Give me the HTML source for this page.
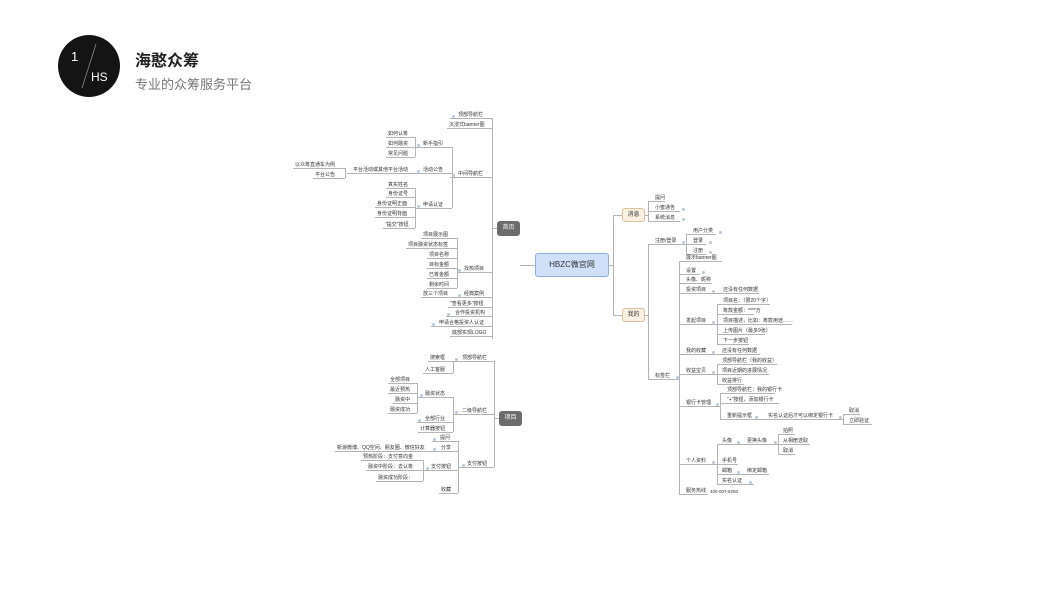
<!DOCTYPE html>
<html><head><meta charset="utf-8"><style>
body{margin:0;width:1048px;height:600px;background:#fff;position:relative;overflow:hidden;font-family:"Liberation Sans","Noto Sans CJK SC",sans-serif}
.n{position:absolute;height:7px;line-height:7px;font-size:5px;border-bottom:1px solid #b4b4b4;white-space:nowrap;color:#333;box-sizing:border-box}
.v{position:absolute;width:0;border-left:1px solid #b4b4b4}
.h{position:absolute;height:0;border-top:1px solid #b4b4b4}
.d{position:absolute;width:3px;height:3px;border-radius:50%;background:#b9c9dd}
.bx{position:absolute;box-sizing:border-box;font-size:6px;text-align:center;border-radius:3px}
</style></head><body>
<div style="position:absolute;left:58px;top:35px;width:62px;height:62px;border-radius:50%;background:#141414"></div>
<svg style="position:absolute;left:0;top:0" width="200" height="100"><line x1="96" y1="44" x2="82" y2="88" stroke="#888" stroke-width="0.8"/></svg>
<div style="position:absolute;left:71px;top:49px;color:#fff;font-size:13px">1</div>
<div style="position:absolute;left:91px;top:70px;color:#fff;font-size:12px">HS</div>
<div style="position:absolute;left:135px;top:47px;font-size:16px;font-weight:bold;color:#222">海憨众筹</div>
<div style="position:absolute;left:135px;top:74px;font-size:13px;color:#777">专业的众筹服务平台</div>

<!-- center -->
<div class="bx" style="left:535px;top:253px;width:74px;height:24px;line-height:22px;background:#cfe0f8;border:1px solid #8eaede;font-size:8px;color:#333">HBZC微官网</div>
<div class="bx" style="left:497px;top:221px;width:23px;height:15px;line-height:15px;background:#6c6c6c;color:#fff">首页</div>
<div class="bx" style="left:499px;top:411px;width:23px;height:15px;line-height:15px;background:#6c6c6c;color:#fff">项目</div>
<div class="bx" style="left:622px;top:208px;width:23px;height:14px;line-height:12px;background:#fbf1e2;border:1px solid #d9c39e;color:#333">消息</div>
<div class="bx" style="left:622px;top:308px;width:23px;height:14px;line-height:12px;background:#fbf1e2;border:1px solid #d9c39e;color:#333">我的</div>

<!-- left spines -->
<div class="v" style="left:492px;top:118px;height:221px"></div>
<div class="h" style="left:492px;top:228px;width:5px"></div>
<div class="h" style="left:520px;top:265px;width:15px"></div>
<div class="v" style="left:494px;top:361px;height:106px"></div>
<div class="h" style="left:494px;top:418px;width:5px"></div>
<div class="v" style="left:452px;top:147px;height:61px"></div>
<div class="v" style="left:415px;top:137px;height:20px"></div>
<div class="v" style="left:345px;top:168px;height:10px"></div>
<div class="v" style="left:415px;top:188px;height:40px"></div>
<div class="v" style="left:457px;top:238px;height:50px"></div>
<div class="v" style="left:453px;top:361px;height:12px"></div>
<div class="v" style="left:453px;top:397px;height:35px"></div>
<div class="v" style="left:417px;top:383px;height:30px"></div>
<div class="v" style="left:458px;top:441px;height:52px"></div>
<div class="v" style="left:423px;top:460px;height:21px"></div>

<div class="n" style="left:450px;top:112px;width:42px;padding-left:8px">顶部导航栏</div>
<div class="n" style="left:447px;top:122px;width:45px;padding-left:2px">沉浸式banner图</div>
<div class="n" style="left:450px;top:171px;width:42px;padding-left:8px">中间导航栏</div>
<div class="n" style="left:415px;top:141px;width:37px;padding-left:8px">新手指引</div>
<div class="n" style="left:415px;top:167px;width:37px;padding-left:8px">活动公告</div>
<div class="n" style="left:415px;top:202px;width:37px;padding-left:8px">申请认证</div>
<div class="n" style="left:386px;top:131px;width:29px;padding-left:2px">如何认筹</div>
<div class="n" style="left:386px;top:141px;width:29px;padding-left:2px">如何融资</div>
<div class="n" style="left:386px;top:151px;width:29px;padding-left:2px">常见问题</div>
<div class="n" style="left:347px;top:167px;width:68px;padding-left:6px">平台活动或其他平台活动</div>
<div class="n" style="left:293px;top:162px;width:52px;padding-left:2px">以众筹直通车为例</div>
<div class="n" style="left:313px;top:172px;width:32px;padding-left:2px">平台公告</div>
<div class="n" style="left:386px;top:182px;width:29px;padding-left:2px">真实姓名</div>
<div class="n" style="left:386px;top:191px;width:29px;padding-left:2px">身份证号</div>
<div class="n" style="left:375px;top:201px;width:40px;padding-left:2px">身份证明正面</div>
<div class="n" style="left:375px;top:211px;width:40px;padding-left:2px">身份证明背面</div>
<div class="n" style="left:383px;top:222px;width:32px;padding-left:2px">"提交"按钮</div>
<div class="n" style="left:457px;top:266px;width:35px;padding-left:7px">找热项目</div>
<div class="n" style="left:421px;top:232px;width:36px;padding-left:2px">项目展示图</div>
<div class="n" style="left:406px;top:242px;width:51px;padding-left:2px">项目融资状态标签</div>
<div class="n" style="left:427px;top:252px;width:30px;padding-left:2px">项目名称</div>
<div class="n" style="left:427px;top:262px;width:30px;padding-left:2px">目标金额</div>
<div class="n" style="left:427px;top:272px;width:30px;padding-left:2px">已筹金额</div>
<div class="n" style="left:427px;top:282px;width:30px;padding-left:2px">剩余时间</div>
<div class="n" style="left:457px;top:291px;width:35px;padding-left:7px">经典案例</div>
<div class="n" style="left:421px;top:291px;width:36px;padding-left:2px">放三个项目</div>
<div class="n" style="left:448px;top:301px;width:44px;padding-left:2px">"查看更多"按钮</div>
<div class="n" style="left:446px;top:310px;width:46px;padding-left:9px">合作投资机构</div>
<div class="n" style="left:431px;top:320px;width:61px;padding-left:8px">申请合格投资人认证</div>
<div class="n" style="left:450px;top:330px;width:42px;padding-left:2px">底部实现LOGO</div>

<div class="n" style="left:453px;top:355px;width:41px;padding-left:9px">顶部导航栏</div>
<div class="n" style="left:428px;top:355px;width:25px;padding-left:2px">搜索框</div>
<div class="n" style="left:423px;top:367px;width:30px;padding-left:2px">人工客服</div>
<div class="n" style="left:453px;top:408px;width:41px;padding-left:9px">二级导航栏</div>
<div class="n" style="left:417px;top:391px;width:36px;padding-left:8px">融资状态</div>
<div class="n" style="left:417px;top:416px;width:36px;padding-left:8px">全部行业</div>
<div class="n" style="left:418px;top:426px;width:35px;padding-left:2px">计算器按钮</div>
<div class="n" style="left:388px;top:377px;width:29px;padding-left:2px">全部项目</div>
<div class="n" style="left:388px;top:387px;width:29px;padding-left:2px">最近预热</div>
<div class="n" style="left:393px;top:397px;width:24px;padding-left:2px">融资中</div>
<div class="n" style="left:388px;top:407px;width:29px;padding-left:2px">融资成功</div>
<div class="n" style="left:458px;top:461px;width:36px;padding-left:9px">支付按钮</div>
<div class="n" style="left:432px;top:435px;width:26px;padding-left:8px">提问</div>
<div class="n" style="left:432px;top:445px;width:26px;padding-left:9px">分享</div>
<div class="n" style="left:335px;top:445px;width:97px;padding-left:2px">新浪微博、QQ空间、朋友圈、微信好友</div>
<div class="n" style="left:423px;top:464px;width:35px;padding-left:8px">支付按钮</div>
<div class="n" style="left:439px;top:487px;width:19px;padding-left:2px">收藏</div>
<div class="n" style="left:361px;top:454px;width:62px;padding-left:2px">预热阶段：支付意向金</div>
<div class="n" style="left:366px;top:464px;width:57px;padding-left:2px">融资中阶段：去认筹</div>
<div class="n" style="left:376px;top:475px;width:47px;padding-left:2px">融资成功阶段：</div>

<!-- right -->
<div class="h" style="left:609px;top:265px;width:4px"></div>
<div class="v" style="left:613px;top:215px;height:101px"></div>
<div class="h" style="left:613px;top:215px;width:9px"></div>
<div class="h" style="left:613px;top:315px;width:9px"></div>
<div class="v" style="left:648px;top:201px;height:20px"></div>
<div class="h" style="left:645px;top:215px;width:3px"></div>
<div class="v" style="left:648px;top:244px;height:135px"></div>
<div class="h" style="left:645px;top:315px;width:3px"></div>
<div class="v" style="left:686px;top:234px;height:20px"></div>
<div class="v" style="left:679px;top:261px;height:233px"></div>
<div class="v" style="left:717px;top:304px;height:40px"></div>
<div class="v" style="left:717px;top:364px;height:20px"></div>
<div class="v" style="left:720px;top:393px;height:26px"></div>
<div class="v" style="left:843px;top:414px;height:10px"></div>
<div class="v" style="left:717px;top:444px;height:40px"></div>
<div class="v" style="left:778px;top:434px;height:20px"></div>

<div class="n" style="left:648px;top:195px;width:17px;padding-left:7px">提问</div>
<div class="n" style="left:648px;top:205px;width:32px;padding-left:7px">小蜜通告</div>
<div class="n" style="left:648px;top:215px;width:32px;padding-left:7px">系统消息</div>
<div class="n" style="left:648px;top:238px;width:38px;padding-left:7px">注册/登录</div>
<div class="n" style="left:686px;top:228px;width:30px;padding-left:7px">用户分类</div>
<div class="n" style="left:686px;top:238px;width:20px;padding-left:7px">登录</div>
<div class="n" style="left:686px;top:248px;width:20px;padding-left:7px">注册</div>
<div class="n" style="left:648px;top:373px;width:31px;padding-left:7px">标签栏</div>
<div class="n" style="left:679px;top:255px;width:43px;padding-left:7px">展示banner图</div>
<div class="n" style="left:679px;top:268px;width:21px;padding-left:7px">设置</div>
<div class="n" style="left:679px;top:277px;width:33px;padding-left:7px">头像、昵称</div>
<div class="n" style="left:679px;top:287px;width:38px;padding-left:7px">投资项目</div>
<div class="n" style="left:717px;top:287px;width:42px;padding-left:6px">还没有任何数据</div>
<div class="n" style="left:679px;top:318px;width:38px;padding-left:7px">发起项目</div>
<div class="n" style="left:717px;top:298px;width:53px;padding-left:6px">项目名：（限20个字）</div>
<div class="n" style="left:717px;top:308px;width:37px;padding-left:6px">筹款金额：****万</div>
<div class="n" style="left:717px;top:318px;width:75px;padding-left:6px">项目描述，比如：筹款用途……</div>
<div class="n" style="left:717px;top:328px;width:48px;padding-left:6px">上传图片（最多9张）</div>
<div class="n" style="left:717px;top:338px;width:32px;padding-left:6px">下一步按钮</div>
<div class="n" style="left:679px;top:348px;width:38px;padding-left:7px">我的收藏</div>
<div class="n" style="left:717px;top:348px;width:43px;padding-left:5px">还没有任何数据</div>
<div class="n" style="left:679px;top:368px;width:38px;padding-left:7px">收益宝贝</div>
<div class="n" style="left:717px;top:358px;width:60px;padding-left:5px">顶部导航栏（我的收益）</div>
<div class="n" style="left:717px;top:368px;width:52px;padding-left:5px">项目近期的进展情况</div>
<div class="n" style="left:717px;top:378px;width:27px;padding-left:5px">收益排行</div>
<div class="n" style="left:679px;top:400px;width:41px;padding-left:7px">银行卡管理</div>
<div class="n" style="left:720px;top:387px;width:55px;padding-left:7px">顶部导航栏：我的银行卡</div>
<div class="n" style="left:720px;top:397px;width:59px;padding-left:7px">"+"按钮，添加银行卡</div>
<div class="n" style="left:720px;top:413px;width:40px;padding-left:7px">重新提示框</div>
<div class="n" style="left:760px;top:413px;width:83px;padding-left:8px">实名认证后才可以绑定银行卡</div>
<div class="n" style="left:843px;top:408px;width:17px;padding-left:6px">取消</div>
<div class="n" style="left:843px;top:418px;width:29px;padding-left:6px">立即验证</div>
<div class="n" style="left:679px;top:458px;width:38px;padding-left:7px">个人资料</div>
<div class="n" style="left:717px;top:438px;width:25px;padding-left:5px">头像</div>
<div class="n" style="left:742px;top:438px;width:36px;padding-left:5px">更换头像</div>
<div class="n" style="left:778px;top:428px;width:17px;padding-left:5px">拍照</div>
<div class="n" style="left:778px;top:438px;width:32px;padding-left:5px">从相册选取</div>
<div class="n" style="left:778px;top:448px;width:17px;padding-left:5px">取消</div>
<div class="n" style="left:717px;top:458px;width:21px;padding-left:5px">手机号</div>
<div class="n" style="left:717px;top:468px;width:25px;padding-left:5px">邮箱</div>
<div class="n" style="left:742px;top:468px;width:27px;padding-left:5px">绑定邮箱</div>
<div class="n" style="left:717px;top:478px;width:37px;padding-left:5px">实名认证</div>
<div class="n" style="left:679px;top:488px;width:29px;padding-left:7px">服务热线</div>
<div style="position:absolute;left:710px;top:488px;font-size:4.5px;line-height:7px;color:#333">400-007-6250</div>

<!-- dots -->
<div class="d" style="left:452px;top:115px"></div>
<div class="d" style="left:452px;top:174px"></div>
<div class="d" style="left:417px;top:144px"></div>
<div class="d" style="left:417px;top:170px"></div>
<div class="d" style="left:417px;top:205px"></div>
<div class="d" style="left:458px;top:269px"></div>
<div class="d" style="left:458px;top:294px"></div>
<div class="d" style="left:447px;top:313px"></div>
<div class="d" style="left:432px;top:323px"></div>
<div class="d" style="left:455px;top:358px"></div>
<div class="d" style="left:455px;top:411px"></div>
<div class="d" style="left:420px;top:394px"></div>
<div class="d" style="left:418px;top:419px"></div>
<div class="d" style="left:433px;top:438px"></div>
<div class="d" style="left:433px;top:448px"></div>
<div class="d" style="left:462px;top:464px"></div>
<div class="d" style="left:426px;top:467px"></div>
<div class="d" style="left:682px;top:208px"></div>
<div class="d" style="left:682px;top:218px"></div>
<div class="d" style="left:682px;top:241px"></div>
<div class="d" style="left:719px;top:231px"></div>
<div class="d" style="left:709px;top:241px"></div>
<div class="d" style="left:709px;top:251px"></div>
<div class="d" style="left:676px;top:376px"></div>
<div class="d" style="left:702px;top:271px"></div>
<div class="d" style="left:712px;top:290px"></div>
<div class="d" style="left:712px;top:321px"></div>
<div class="d" style="left:712px;top:351px"></div>
<div class="d" style="left:712px;top:371px"></div>
<div class="d" style="left:716px;top:403px"></div>
<div class="d" style="left:755px;top:416px"></div>
<div class="d" style="left:839px;top:416px"></div>
<div class="d" style="left:712px;top:461px"></div>
<div class="d" style="left:737px;top:441px"></div>
<div class="d" style="left:774px;top:441px"></div>
<div class="d" style="left:737px;top:471px"></div>
<div class="d" style="left:749px;top:481px"></div>
</body></html>
